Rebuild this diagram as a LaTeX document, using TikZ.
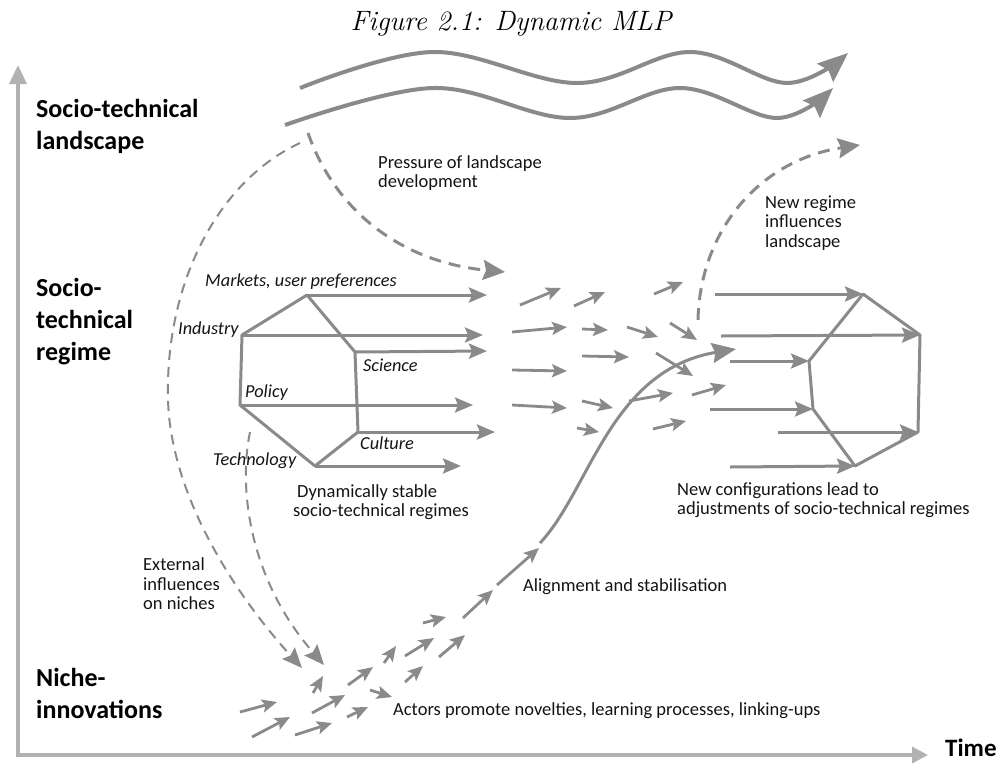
\documentclass[tikz,border=0pt]{standalone}
\usepackage{fontspec}
\newfontfamily\calib{Carlito}
\usetikzlibrary{arrows.meta}

\definecolor{ink}{RGB}{138,138,138}
\definecolor{axisgray}{RGB}{178,178,178}
\definecolor{txt}{RGB}{20,20,20}

\tikzset{
  body/.style={font=\calib\fontsize{18.5}{19.5}\selectfont, text=txt, inner sep=0pt, align=left},
  levellabel/.style={font=\calib\bfseries\fontsize{26}{32}\selectfont, text=black, inner sep=0pt, align=left},
  dimlabel/.style={font=\calib\itshape\fontsize{18.3}{20}\selectfont, text=txt, inner sep=0pt},
  axisline/.style={draw=axisgray, line width=3.5pt, {Triangle[length=19pt,width=17pt]}-{Triangle[length=16pt,width=16pt]}},
  wave/.style={draw=ink, line width=4pt, -{Stealth[length=30pt,width=24pt,inset=4pt]}},
  hexedge/.style={draw=ink, line width=3pt, line join=round},
  flow/.style={draw=ink, line width=3pt, -{Stealth[length=18pt,width=15pt,inset=3pt]}},
  minor/.style={draw=ink, line width=2.8pt, -{Stealth[length=15pt,width=13pt,inset=3pt]}},
  pressure/.style={draw=ink, line width=3pt, dash pattern=on 12pt off 8pt, -{Stealth[length=22pt,width=20pt,inset=3pt]}},
  external/.style={draw=ink, line width=2pt, dash pattern=on 10pt off 7pt, -{Stealth[length=20pt,width=17pt,inset=3pt]}},
  trajectory/.style={draw=ink, line width=3pt, -{Stealth[length=24pt,width=20pt,inset=3pt]}},
}

\begin{document}
\begin{tikzpicture}[x=1pt,y=-1pt]
\useasboundingbox (0,0) rectangle (1007,764);

% title
\node[font=\itshape\fontsize{28}{30}\selectfont, inner sep=0pt, anchor=base] (title) at (511,30) {Figure 2.1: Dynamic MLP};

% axes
\coordinate (ytip) at (18,65);
\coordinate (origin) at (18,755);
\coordinate (xtip) at (928,755);
\draw[axisline] (ytip) -- (origin) -- (xtip);
\node[levellabel, font=\calib\bfseries\fontsize{25}{30}\selectfont, anchor=base west] (time) at (945,756) {Time};

% level labels
\node[levellabel, anchor=west] (landscape) at (36,126) {Socio-technical\\landscape};
\node[levellabel, anchor=west] (regime) at (36,322) {Socio-\\technical\\regime};
\node[levellabel, anchor=west] (niche) at (36,693) {Niche-\\innovations};

% landscape developments
\draw[wave] plot[smooth, tension=0.6] coordinates {(300,88) (433,52) (577,83) (690,52) (787,83) (848,53)};
\draw[wave] plot[smooth, tension=0.6] coordinates {(285,125) (433,88) (570,118) (680,88) (777,118) (833,88)};

% landscape pressure on regime
\coordinate (pstart) at (308,133);
\coordinate (pend) at (505,272);
\draw[pressure] (pstart) .. controls (335,210) and (400,262) .. (pend);
\node[body, anchor=west] (presslbl) at (378,173) {Pressure of landscape\\development};

% external influences on niches
\coordinate (ext1start) at (300,143);
\coordinate (ext1mid) at (168,400);
\coordinate (ext1end) at (302,668);
\draw[external] (ext1start) .. controls (220,180) and (165,280) .. (ext1mid)
  .. controls (171,500) and (240,600) .. (ext1end);
\coordinate (ext2start) at (250,432);
\coordinate (ext2end) at (324,665);
\draw[external] (ext2start) .. controls (238,490) and (250,580) .. (ext2end);
\node[body, anchor=west] (extlbl) at (143,584) {External\\influences\\on niches};

% stable regime hexagon
\coordinate (hT) at (307,295);
\coordinate (hUL) at (242,335);
\coordinate (hLL) at (240,405);
\coordinate (hB) at (315,466);
\coordinate (hLR) at (358,432);
\coordinate (hUR) at (355,352);
\draw[hexedge] (hT) -- (hUL) -- (hLL) -- (hB) -- (hLR) -- (hUR) -- cycle;
\coordinate (aT) at (487,295);
\coordinate (aUL) at (483,335);
\coordinate (aUR) at (487,351);
\coordinate (aLL) at (473,405);
\coordinate (aLR) at (495,432);
\coordinate (aB) at (461,466);
\draw[flow] (hT) -- (aT);
\draw[flow] (hUL) -- (aUL);
\draw[flow] (hUR) -- (aUR);
\draw[flow] (hLL) -- (aLL);
\draw[flow] (hLR) -- (aLR);
\draw[flow] (hB) -- (aB);

\node[dimlabel, anchor=west] (markets) at (205,282) {Markets, user preferences};
\node[dimlabel, anchor=west] (industry) at (178,330) {Industry};
\node[dimlabel, anchor=west] (science) at (363,365) {Science};
\node[dimlabel, anchor=west] (policy) at (245,393) {Policy};
\node[dimlabel, anchor=west] (culture) at (360,443) {Culture};
\node[dimlabel, anchor=west] (technology) at (213,461) {Technology};
\node[body, anchor=west] (stablelbl) at (293,502) {\hspace{4pt}Dynamically stable\\socio-technical regimes};

% regime elements drifting apart
\foreach \a/\b in {
  {(520,305)}/{(561,288)}, {(574,306)}/{(605,292)}, {(654,294)}/{(683,282)},
  {(512,332)}/{(567,327)}, {(582,329)}/{(608,330)}, {(627,327)}/{(658,337)},
  {(670,323)}/{(697,340)}, {(582,356)}/{(629,357)}, {(656,353)}/{(693,376)},
  {(512,370)}/{(567,371)}, {(582,401)}/{(613,408)}, {(629,401)}/{(673,393)},
  {(692,395)}/{(726,385)}, {(512,405)}/{(567,408)}, {(577,428)}/{(599,432)},
  {(653,429)}/{(686,421)}}
  \draw[minor] \a -- \b;

% niche activity
\foreach \a/\b in {
  {(240,712)}/{(277,702)}, {(252,737)}/{(290,717)}, {(295,735)}/{(332,723)},
  {(312,713)}/{(345,695)}, {(313,693)}/{(323,676)}, {(347,717)}/{(368,707)},
  {(348,685)}/{(373,667)}, {(370,690)}/{(392,697)}, {(384,663)}/{(396,646)},
  {(405,682)}/{(423,666)}, {(405,656)}/{(434,638)}, {(423,623)}/{(446,617)},
  {(439,657)}/{(465,635)}, {(463,618)}/{(493,590)}, {(497,585)}/{(539,548)}}
  \draw[minor] \a -- \b;
\node[body, anchor=west] (actorslbl) at (393,711) {Actors promote novelties, learning processes, linking-ups};

% breakthrough trajectory
\coordinate (trajstart) at (540,543);
\coordinate (trajend) at (736,349);
\draw[trajectory] (trajstart) .. controls (590,490) and (610,370) .. (trajend);
\node[body, anchor=west] (alignlbl) at (523,587) {Alignment and stabilisation};

% new regime influences landscape
\coordinate (nstart) at (698,320);
\coordinate (nend) at (860,145);
\draw[pressure] (nstart) .. controls (700,230) and (760,160) .. (nend);
\node[body, anchor=west] (newreglbl) at (765,223) {New regime\\influences\\landscape};

% reconfigured regime hexagon
\coordinate (gT) at (863,294);
\coordinate (gRU) at (920,335);
\coordinate (gRL) at (918,432);
\coordinate (gB) at (855,466);
\coordinate (gLL) at (813,409);
\coordinate (gLU) at (809,361);
\draw[hexedge] (gT) -- (gRU) -- (gRL) -- (gB) -- (gLL) -- (gLU) -- cycle;
\coordinate (bT) at (715,294);
\coordinate (bRU) at (721,336);
\coordinate (bLU) at (730,361);
\coordinate (bLL) at (710,409);
\coordinate (bRL) at (778,432);
\coordinate (bB) at (730,467);
\draw[flow] (bT) -- (gT);
\draw[flow] (bRU) -- (gRU);
\draw[flow] (bLU) -- (gLU);
\draw[flow] (bLL) -- (gLL);
\draw[flow] (bRL) -- (gRL);
\draw[flow] (bB) -- (gB);
\node[body, anchor=west] (newconflbl) at (677,500) {New configurations lead to\\adjustments of socio-technical regimes};

\end{tikzpicture}
\end{document}
